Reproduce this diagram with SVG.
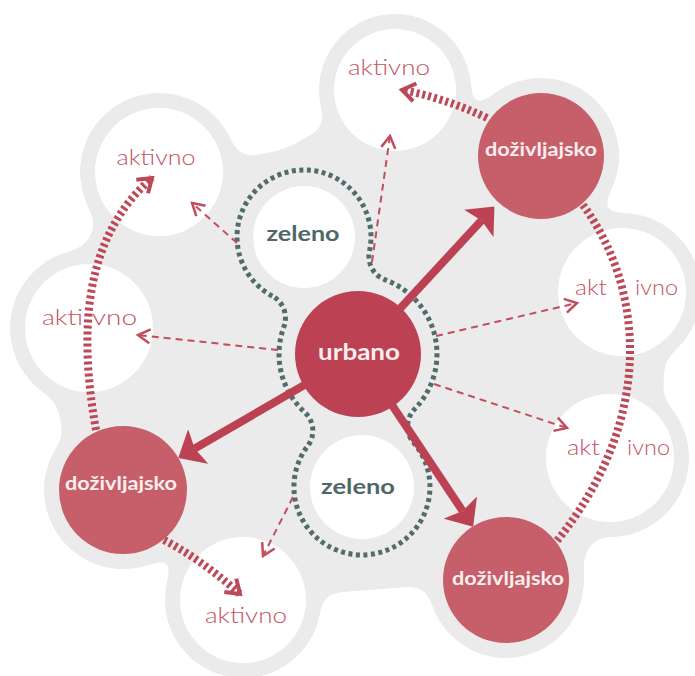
<svg xmlns="http://www.w3.org/2000/svg" width="695" height="676" viewBox="0 0 695 676">
<defs>
<style>
.bg{fill:#ebebeb}
.white{fill:#ffffff}
.urb{fill:#bc4253}
.dož{fill:#c75f6a}
.thick{stroke:#bc4253;stroke-width:8;fill:none}
.thin{stroke:#c24d5c;stroke-width:2;stroke-dasharray:7 5;fill:none}
.hatch{stroke:#bd4858;stroke-width:8;stroke-dasharray:3 3;fill:none}
.teal{stroke:#516c6b;stroke-width:5;stroke-dasharray:4 3.5;fill:none}
.akt{font-family:Lato,"Noto Sans",sans-serif;font-weight:300;font-size:21px;fill:#c4525f}
.lbl{font-family:Lato,"Noto Sans",sans-serif;font-weight:700;fill:#fbeeee}
.zel{font-family:Lato,"Noto Sans",sans-serif;font-weight:700;font-size:21px;fill:#4f6866}
</style>
<filter id="goo" filterUnits="userSpaceOnUse" x="0" y="0" width="695" height="676" color-interpolation-filters="sRGB">
<feGaussianBlur in="SourceGraphic" stdDeviation="10"/>
<feColorMatrix values="1 0 0 0 0  0 1 0 0 0  0 0 1 0 0  0 0 0 30 -15"/>
</filter>
<marker id="bigHead" markerUnits="userSpaceOnUse" viewBox="0 -20 23 40" refX="4" refY="0" markerWidth="23" markerHeight="40" orient="auto">
<path d="M23,0 L0,-20 L4,0 L0,20 Z" fill="#bc4253"/>
</marker>
<marker id="chev" markerUnits="userSpaceOnUse" viewBox="-14 -9 16 18" refX="0" refY="0" markerWidth="16" markerHeight="18" orient="auto">
<path d="M-12,-7 L0,0 L-12,7" fill="none" stroke="#c24d5c" stroke-width="2.5"/>
</marker>
<marker id="chevBold" markerUnits="userSpaceOnUse" viewBox="-16 -11 19 22" refX="0" refY="0" markerWidth="19" markerHeight="22" orient="auto">
<path d="M-13,-9 L0,0 L-13,9" fill="none" stroke="#bd4858" stroke-width="4"/>
</marker>
</defs>

<g id="background" class="bg" filter="url(#goo)">
<polygon points="395,90 541,156 622,292 610,458 506,580 243,600 123,490 89,328 159,172 282,150"/>
<circle cx="395" cy="90" r="77"/>
<circle cx="159" cy="172" r="80"/>
<circle cx="89" cy="328" r="80"/>
<circle cx="243" cy="600" r="79"/>
<circle cx="622" cy="292" r="80"/>
<circle cx="610" cy="458" r="80"/>
<circle cx="541" cy="156" r="79"/>
<circle cx="123" cy="490" r="80"/>
<circle cx="506" cy="580" r="79"/>
<circle cx="620" cy="377" r="45"/>
<circle cx="100" cy="410" r="42"/>
<circle cx="118" cy="250" r="32"/>
<circle cx="560" cy="535" r="32"/>
</g>

<g id="aktivno-top"><circle class="white" cx="395" cy="90" r="61"/></g>
<g id="aktivno-upper-left"><circle class="white" cx="159" cy="172" r="64"/></g>
<g id="aktivno-left"><circle class="white" cx="89" cy="328" r="64"/></g>
<g id="aktivno-bottom"><circle class="white" cx="243" cy="600" r="63"/></g>
<g id="aktivno-right-upper"><circle class="white" cx="622" cy="292" r="64"/></g>
<g id="aktivno-right-lower"><circle class="white" cx="610" cy="458" r="64"/></g>
<g id="zeleno-top"><circle class="white" cx="304" cy="237" r="51"/></g>
<g id="zeleno-bottom"><circle class="white" cx="362" cy="487" r="52"/></g>

<g id="green-boundary">
<path class="teal" d="M272.3,296.0 A67,67 0 1 1 369.5,251.1 A25,25 0 0 0 385.3,279.9 A79,79 0 0 1 414.7,409.0 A25,25 0 0 0 413.6,442.7 A68,68 0 1 1 307.7,445.9 A25,25 0 0 0 304.7,412.3 A79,79 0 0 1 283.9,326.7 A25,25 0 0 0 272.3,296.0 Z"/>
</g>

<g id="connectors">
<line class="thick" x1="358" y1="354" x2="481.5" y2="220.5" marker-end="url(#bigHead)"/>
<line class="thick" x1="358" y1="354" x2="462.6" y2="510.9" marker-end="url(#bigHead)"/>
<line class="thick" x1="358" y1="354" x2="194.7" y2="448.5" marker-end="url(#bigHead)"/>
<line class="thin" x1="372" y1="262" x2="390" y2="136" marker-end="url(#chev)"/>
<line class="thin" x1="237" y1="243" x2="192" y2="203" marker-end="url(#chev)"/>
<line class="thin" x1="278" y1="350" x2="138" y2="335" marker-end="url(#chev)"/>
<line class="thin" x1="293" y1="497" x2="263" y2="556" marker-end="url(#chev)"/>
<line class="thin" x1="436" y1="336" x2="577" y2="303" marker-end="url(#chev)"/>
<line class="thin" x1="434" y1="384" x2="567" y2="428" marker-end="url(#chev)"/>
<path class="hatch" d="M487,118 Q445,98 402,90" marker-end="url(#chevBold)"/>
<path class="hatch" d="M583,205 C645,290 655,420 556,542"/>
<path class="hatch" d="M96,430 C80,340 80,240 152,178" marker-end="url(#chevBold)"/>
<path class="hatch" d="M164,540 Q202,560 240,594" marker-end="url(#chevBold)"/>
</g>

<g id="urbano"><circle class="urb" cx="358" cy="354" r="63"/>
<text class="lbl" x="359" y="360" font-size="22" text-anchor="middle" textLength="82" lengthAdjust="spacingAndGlyphs">urbano</text></g>
<g id="dozivljajsko-top"><circle class="dož" cx="541" cy="156" r="63"/>
<text class="lbl" x="541" y="156" font-size="18" text-anchor="middle" textLength="112" lengthAdjust="spacingAndGlyphs">doživljajsko</text></g>
<g id="dozivljajsko-left"><circle class="dož" cx="123" cy="490" r="64"/>
<text class="lbl" x="121" y="490" font-size="18" text-anchor="middle" textLength="112" lengthAdjust="spacingAndGlyphs">doživljajsko</text></g>
<g id="dozivljajsko-bottom"><circle class="dož" cx="506" cy="580" r="63"/>
<text class="lbl" x="508" y="585" font-size="18" text-anchor="middle" textLength="112" lengthAdjust="spacingAndGlyphs">doživljajsko</text></g>

<g id="labels">
<text class="akt" x="389" y="75" text-anchor="middle" textLength="82" lengthAdjust="spacingAndGlyphs">aktivno</text>
<text class="akt" x="156" y="165" text-anchor="middle" textLength="79" lengthAdjust="spacingAndGlyphs">aktivno</text>
<text class="akt" x="246" y="623" text-anchor="middle" textLength="82" lengthAdjust="spacingAndGlyphs">aktivno</text>
<text class="akt" y="325"><tspan x="42" textLength="41" lengthAdjust="spacingAndGlyphs">akti</tspan> <tspan x="92" textLength="45" lengthAdjust="spacingAndGlyphs">vno</tspan></text>
<text class="akt" y="295"><tspan x="575" textLength="32" lengthAdjust="spacingAndGlyphs">akt</tspan> <tspan x="635" textLength="43" lengthAdjust="spacingAndGlyphs">ivno</tspan></text>
<text class="akt" y="455"><tspan x="567" textLength="33" lengthAdjust="spacingAndGlyphs">akt</tspan> <tspan x="627" textLength="43" lengthAdjust="spacingAndGlyphs">ivno</tspan></text>
<text class="zel" x="303" y="241" text-anchor="middle" textLength="73" lengthAdjust="spacingAndGlyphs">zeleno</text>
<text class="zel" x="358" y="494" text-anchor="middle" textLength="74" lengthAdjust="spacingAndGlyphs">zeleno</text>
</g>
</svg>
